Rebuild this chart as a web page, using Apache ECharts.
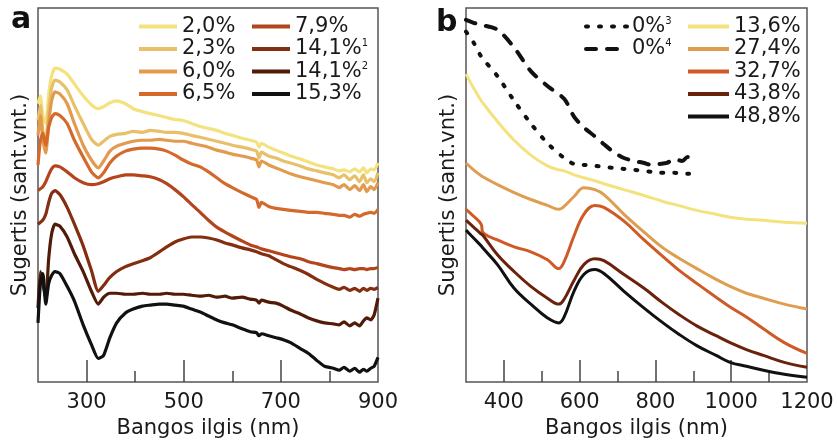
<!DOCTYPE html>
<html>
<head>
<meta charset="utf-8">
<script src="https://cdn.jsdelivr.net/npm/echarts@6/dist/echarts.min.js"></script>
<style>
  html, body { margin: 0; padding: 0; background: #fff; }
  #chart { width: 838px; height: 444px; }
</style>
</head>
<body>
<div id="chart"></div>
<script>
// absorbcijos spektrai, dvi dalys (a, b)
// y reiksmes - santykiniai vienetai, nuskaityti nuo paveikslo

// a dalis: bangos ilgiai (nm)
const WL_A = [200, 205, 210, 216, 222, 228, 235, 245, 260, 275,
    293, 310, 324, 335, 348, 362, 380, 396, 415, 431,
    450, 465, 482, 499, 516, 534, 551, 568, 585, 600,
    620, 637, 650, 655, 660, 675, 690, 705, 720, 740,
    757, 774, 790, 808, 820, 830, 842, 852, 862, 870,
    877, 885, 892, 900];

const A_2_0 = [282, 290, 270, 262, 292, 310, 318, 317, 312, 302,
    290, 281, 277, 279, 283, 285, 282, 277, 274, 272,
    270, 268, 266, 265, 262, 259, 257, 255, 252, 250,
    247, 245, 243, 238, 242, 238, 235, 232, 229, 226,
    223, 220, 218, 216, 214, 215, 213, 216, 213, 217,
    212, 216, 215, 222];
const A_2_3 = [265, 280, 255, 245, 275, 298, 306, 304, 296, 280,
    262, 246, 240, 244, 249, 251, 252, 254, 253, 255,
    254, 253, 253, 252, 250, 248, 246, 244, 242, 240,
    238, 236, 234, 227, 233, 229, 227, 224, 222, 219,
    216, 214, 212, 210, 207, 210, 205, 209, 203, 210,
    202, 206, 203, 212];
const A_6_0 = [250, 270, 245, 232, 262, 285, 294, 292, 282, 262,
    240, 225, 217, 224, 234, 239, 242, 244, 245, 245,
    246, 245, 244, 244, 242, 240, 238, 235, 233, 231,
    229, 227, 225, 218, 224, 220, 217, 214, 211, 208,
    206, 204, 202, 200, 197, 200, 195, 199, 194, 200,
    193, 198, 195, 202];
const A_6_5 = [220, 245, 252, 240, 258, 268, 272, 270, 262, 245,
    228, 213, 207, 212, 222, 229, 234, 236, 237, 237,
    236, 234, 230, 225, 221, 218, 213, 207, 201, 197,
    192, 188, 185, 177, 182, 178, 176, 175, 174, 173,
    172, 172, 171, 170, 169, 169, 167, 170, 168, 170,
    171, 172, 171, 175];
const A_7_9 = [194, 196, 198, 203, 210, 216, 219, 218, 213, 207,
    202, 200, 201, 203, 206, 208, 210, 210, 209, 208,
    205, 201, 195, 188, 180, 172, 164, 157, 152, 148,
    143, 139, 137, 136, 135, 133, 131, 129, 127, 125,
    122, 120, 118, 116, 115, 114, 115, 114, 115, 115,
    114, 115, 115, 116];
const A_14_1a = [160, 162, 164, 170, 182, 191, 194, 190, 177, 160,
    138, 113, 92, 98, 106, 112, 117, 120, 123, 126,
    132, 137, 142, 145, 147, 147, 146, 144, 141, 139,
    136, 134, 132, 131, 130, 128, 124, 120, 117, 113,
    109, 104, 100, 96, 94, 96, 93, 95, 92, 95,
    93, 95, 94, 96];
const A_14_1b = [75, 112, 100, 84, 125, 150, 160, 158, 147, 130,
    112, 92, 79, 86, 90, 90, 89, 89, 90, 89,
    89, 90, 89, 89, 88, 87, 88, 86, 87, 85,
    86, 84, 83, 80, 83, 81, 80, 77, 73, 69,
    65, 62, 60, 59, 58, 61, 57, 60, 57, 62,
    65, 63, 68, 85];
const A_15_3 = [60, 100, 110, 79, 100, 108, 112, 110, 97, 82,
    58, 38, 24, 27, 45, 60, 70, 74, 77, 78,
    79, 79, 78, 77, 74, 71, 67, 63, 60, 58,
    54, 51, 50, 47, 49, 47, 45, 43, 40, 34,
    29, 22, 16, 14, 12, 15, 11, 14, 10, 13,
    11, 14, 16, 25];

// b dalis
const WL_B = [300, 320, 340, 344, 383, 427, 471, 515, 545, 559,
    585, 611, 640, 664, 717, 770, 820, 860, 909, 960,
    997, 1040, 1085, 1140, 1200];
const B_13_6 = [312, 298, 285, 283, 264, 245, 230, 219, 215, 214,
    210, 207, 204, 201, 195, 189, 183, 179, 174, 170,
    167, 165, 164, 162, 161];
const B_27_4 = [222, 215, 209, 208, 200, 192, 185, 179, 175, 178,
    188, 197, 195, 190, 170, 152, 136, 126, 115, 104,
    97, 90, 85, 79, 74];
const B_32_7 = [175, 168, 160, 152, 144, 137, 132, 124, 115, 122,
    148, 170, 179, 177, 163, 144, 127, 114, 100, 86,
    76, 66, 54, 40, 29];
const B_43_8 = [164, 157, 150, 149, 129, 112, 97, 85, 79, 84,
    103, 119, 125, 123, 109, 95, 80, 69, 57, 47,
    40, 33, 27, 20, 15];
const B_48_8 = [154, 146, 138, 136, 119, 95, 79, 65, 60, 66,
    92, 109, 114, 110, 92, 75, 60, 49, 37, 27,
    20, 16, 12, 8, 5];

// 0% kreives matuotos tik iki 900 nm
const WL_REF = [300, 320, 340, 383, 427, 471, 515, 559, 585, 611,
    640, 664, 690, 717, 745, 770, 790, 810, 830, 850,
    870, 885, 900];
const B_REF3 = [355, 344, 330, 310, 285, 262, 242, 227, 221, 220,
    219, 218, 217, 216, 215, 214, 213, 212, 212, 212,
    211, 211, 211];
const B_REF4 = [367, 364, 362, 357, 339, 315, 300, 287, 269, 258,
    249, 241, 233, 227, 224, 222, 220, 221, 222, 226,
    224, 228, 227];

// asiu padalos ir zymes
const A_TICK_MAJOR = [300, 500, 700];
const A_TICK_MINOR = [400, 600, 800];
const A_LABELS = [300, 500, 700, 900];
const B_TICK_MAJOR = [400, 600, 800, 1000];
const B_TICK_MINOR = [500, 700, 900, 1100];
const B_LABELS = [400, 600, 800, 1000, 1200];

const FONT = "'DejaVu Sans', 'Liberation Sans', sans-serif";
const TXT = '#1a1a1a';

function pairs(xs, ys) {
    return xs.map(function(x, i) { return [x, ys[i]]; });
}

// virsutinis indeksas legendoje
function legendText(name) {
    return name.replace('¹', '{s|1}').replace('²', '{s|2}')
        .replace('³', '{s|3}').replace('⁴', '{s|4}');
}

function lineSeries(name, xi, wl, ys, color, width, smooth, dash) {
    return {
        name: name,
        type: 'line',
        xAxisIndex: xi,
        yAxisIndex: xi === 0 ? 0 : 1,
        data: pairs(wl, ys),
        showSymbol: false,
        symbol: 'none',
        smooth: smooth,
        clip: true,
        lineStyle: {
            color: color,
            width: width,
            type: dash || 'solid',
            cap: dash ? 'round' : 'butt',
            join: 'round'
        },
        itemStyle: { color: color },
        emphasis: { disabled: true }
    };
}

function xAxisMain(gi, min, max, ticks, labels) {
    return {
        type: 'value', gridIndex: gi, position: 'bottom', offset: 0,
        min: min, max: max,
        axisLine: { show: false },
        axisTick: { show: true, inside: true, length: 22, customValues: ticks,
            lineStyle: { color: '#444', width: 1.5 } },
        axisLabel: { show: true, customValues: labels, margin: 10,
            formatter: function(v) { return String(v); },
            fontSize: 21, color: TXT, fontFamily: FONT },
        splitLine: { show: false },
        name: 'Bangos ilgis (nm)', nameLocation: 'middle', nameGap: 35,
        nameTextStyle: { fontSize: 21, color: TXT, fontFamily: FONT }
    };
}

function xAxisMinor(gi, min, max, ticks) {
    return {
        type: 'value', gridIndex: gi, position: 'bottom', offset: 0,
        min: min, max: max,
        axisLine: { show: false },
        axisTick: { show: true, inside: true, length: 11, customValues: ticks,
            lineStyle: { color: '#444', width: 1.5 } },
        axisLabel: { show: false },
        splitLine: { show: false }
    };
}

function yAxisHidden(gi) {
    return {
        type: 'value', gridIndex: gi, min: 0, max: 379,
        axisLine: { show: false }, axisTick: { show: false },
        axisLabel: { show: false }, splitLine: { show: false },
        name: 'Sugertis (sant.vnt.)', nameLocation: 'middle', nameGap: 7,
        nameTextStyle: { fontSize: 21, color: TXT, fontFamily: FONT }
    };
}

function legendBlock(names, left, top, w) {
    return {
        data: names,
        orient: 'vertical',
        left: left, top: top,
        padding: 0,
        itemWidth: w, itemHeight: 12, itemGap: 1.5,
        selectedMode: false,
        formatter: legendText,
        itemStyle: { opacity: 0 },
        lineStyle: { width: 4 },
        textStyle: {
            fontSize: 21, lineHeight: 21, color: TXT, fontFamily: FONT,
            rich: { s: { fontSize: 10, lineHeight: 12, verticalAlign: 'top', color: TXT, fontFamily: FONT } }
        }
    };
}

const chart = echarts.init(document.getElementById('chart'), null, { renderer: 'canvas' });

const option = {
    animation: false,
    backgroundColor: '#fff',
    textStyle: { fontFamily: FONT },
    graphic: [
        { type: 'text', left: 11, top: 5, style: { text: 'a', fontSize: 30, fontWeight: 'bold', fill: '#111', fontFamily: FONT } },
        { type: 'text', left: 436, top: 8, style: { text: 'b', fontSize: 30, fontWeight: 'bold', fill: '#111', fontFamily: FONT } }
    ],
    grid: [
        { left: 38, top: 8, width: 340, height: 379, show: true, borderColor: '#555', borderWidth: 1.5, backgroundColor: 'transparent' },
        { left: 466, top: 8, width: 341, height: 379, show: true, borderColor: '#555', borderWidth: 1.5, backgroundColor: 'transparent' }
    ],
    xAxis: [
        xAxisMain(0, 200, 900, A_TICK_MAJOR, A_LABELS),
        xAxisMain(1, 300, 1200, B_TICK_MAJOR, B_LABELS),
        xAxisMinor(0, 200, 900, A_TICK_MINOR),
        xAxisMinor(1, 300, 1200, B_TICK_MINOR)
    ],
    yAxis: [yAxisHidden(0), yAxisHidden(1)],
    legend: [
        legendBlock(['2,0%', '2,3%', '6,0%', '6,5%'], 137, 16, 38),
        legendBlock(['7,9%', '14,1%¹', '14,1%²', '15,3%'], 250, 16, 38),
        legendBlock(['0%³', '0%⁴'], 584, 16, 41),
        legendBlock(['13,6%', '27,4%', '32,7%', '43,8%', '48,8%'], 686, 16, 41)
    ],
    series: [
        lineSeries('2,0%', 0, WL_A, A_2_0, '#f3e27d', 3.2, 0.2),
        lineSeries('2,3%', 0, WL_A, A_2_3, '#e8c06a', 3.2, 0.2),
        lineSeries('6,0%', 0, WL_A, A_6_0, '#e39a4c', 3.2, 0.2),
        lineSeries('6,5%', 0, WL_A, A_6_5, '#d4692b', 3.2, 0.2),
        lineSeries('7,9%', 0, WL_A, A_7_9, '#b3441c', 3.2, 0.2),
        lineSeries('14,1%¹', 0, WL_A, A_14_1a, '#832e10', 3.2, 0.2),
        lineSeries('14,1%²', 0, WL_A, A_14_1b, '#521b08', 3.2, 0.2),
        lineSeries('15,3%', 0, WL_A, A_15_3, '#111111', 3.2, 0.2),

        lineSeries('0%³', 1, WL_REF, B_REF3, '#111111', 4, 0.3, [2, 11]),
        lineSeries('0%⁴', 1, WL_REF, B_REF4, '#111111', 4, 0.3, [10, 11]),
        lineSeries('13,6%', 1, WL_B, B_13_6, '#f3e27d', 3, 0.4),
        lineSeries('27,4%', 1, WL_B, B_27_4, '#de9d4f', 3, 0.4),
        lineSeries('32,7%', 1, WL_B, B_32_7, '#d05a26', 3, 0.4),
        lineSeries('43,8%', 1, WL_B, B_43_8, '#6b220c', 3, 0.4),
        lineSeries('48,8%', 1, WL_B, B_48_8, '#111111', 3, 0.4)
    ]
};

chart.setOption(option);

window.addEventListener('resize', function() {
    chart.resize();
});
</script>
</body>
</html>
